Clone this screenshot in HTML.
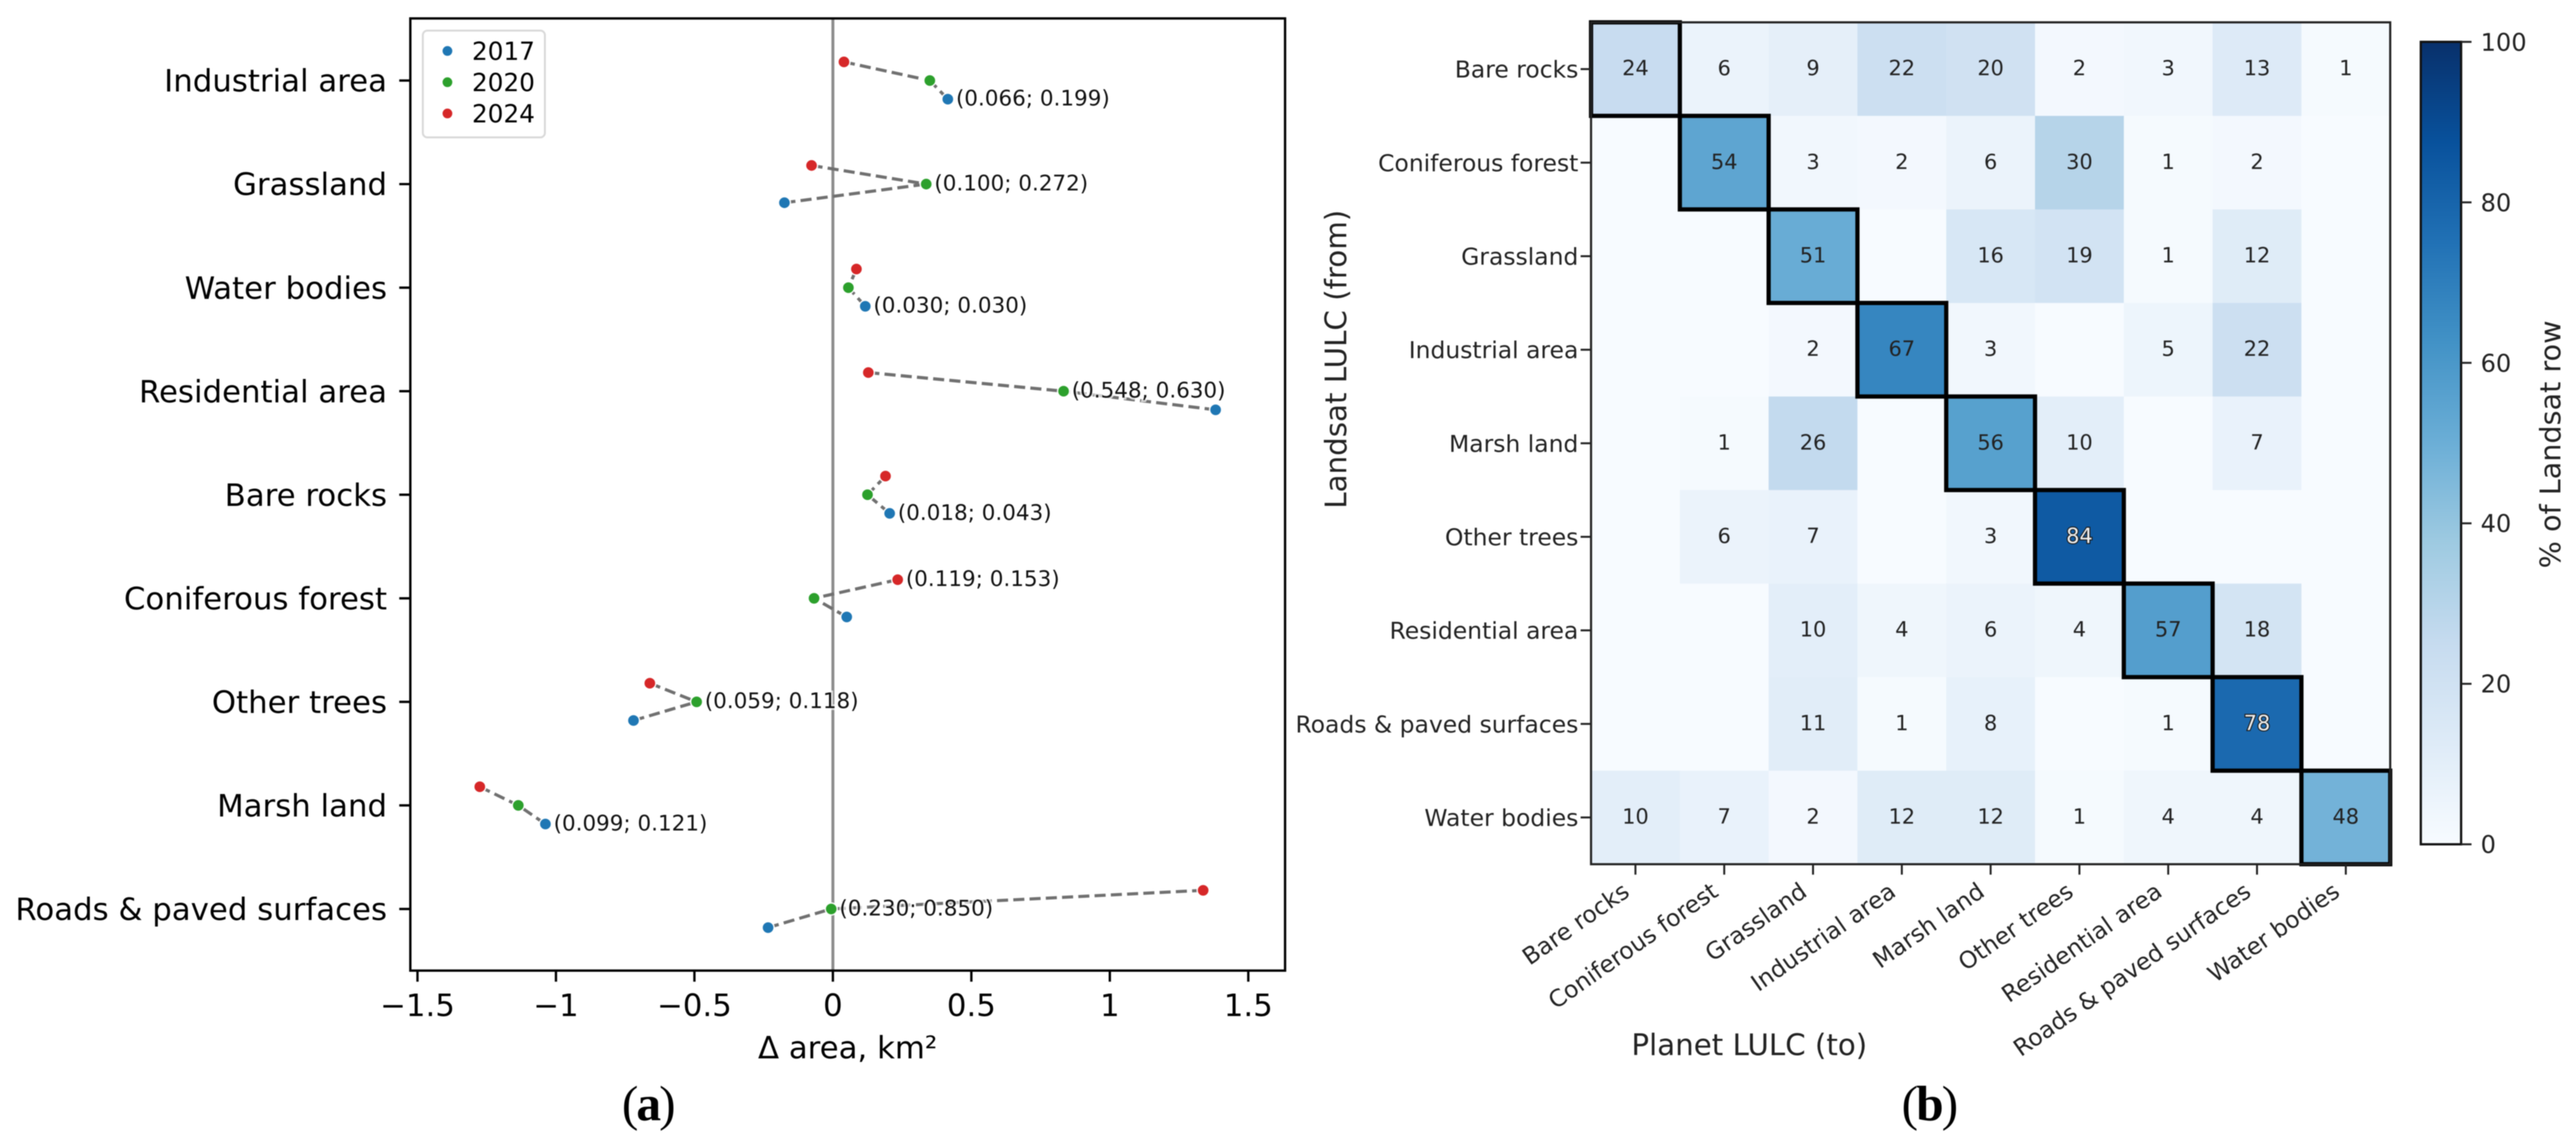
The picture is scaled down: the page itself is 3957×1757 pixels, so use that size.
<!DOCTYPE html>
<html lang="en">
<head>
<meta charset="utf-8">
<title>Land cover change and transition matrix</title>
<style>
html,body{margin:0;padding:0;background:#fff;}
svg{display:block;filter:blur(0.8px);}
text{font-family:"DejaVu Sans","Liberation Sans",sans-serif;}
</style>
</head>
<body>
<svg id="figure" xmlns="http://www.w3.org/2000/svg" width="3957" height="1757" viewBox="0 0 3957 1757">
<rect x="0" y="0" width="3957" height="1757" fill="#ffffff"/>
<defs>
<linearGradient id="cbar-gradient" x1="0" y1="1" x2="0" y2="0"></linearGradient>
</defs>
<g id="panel-a"></g>
<g id="panel-b"></g>
<text x="995" y="1720.5" text-anchor="middle" font-size="76" letter-spacing="-3" style="font-family:'Liberation Serif',serif">(<tspan font-weight="bold">a</tspan>)</text>
<text x="2963" y="1720.5" text-anchor="middle" font-size="76" letter-spacing="-3" style="font-family:'Liberation Serif',serif">(<tspan font-weight="bold">b</tspan>)</text>
</svg>
<script>
// ---------- Panel (a) data ----------
const categories = ["Industrial area","Grassland","Water bodies","Residential area","Bare rocks","Coniferous forest","Other trees","Marsh land","Roads & paved surfaces"];
const years = ["2017","2020","2024"];
const yearColors = ["#1f77b4","#2ca02c","#d62728"];
const values2017 = [0.415,-0.175,0.117,1.382,0.205,0.050,-0.720,-1.038,-0.234];
const values2020 = [0.350,0.337,0.056,0.833,0.125,-0.068,-0.492,-1.136,-0.006];
const values2024 = [0.040,-0.077,0.085,0.128,0.190,0.234,-0.661,-1.275,1.337];
const pairLabels = ["(0.066; 0.199)","(0.100; 0.272)","(0.030; 0.030)","(0.548; 0.630)","(0.018; 0.043)","(0.119; 0.153)","(0.059; 0.118)","(0.099; 0.121)","(0.230; 0.850)"];
const pairLabelYearIndex = [0,1,0,1,0,2,1,0,1];
const xTickValues = [-1.5,-1,-0.5,0,0.5,1,1.5];
const xTickLabels = ["\u22121.5","\u22121","\u22120.5","0","0.5","1","1.5"];

// ---------- Panel (b) data ----------
const lulcClasses = ["Bare rocks","Coniferous forest","Grassland","Industrial area","Marsh land","Other trees","Residential area","Roads & paved surfaces","Water bodies"];
const rowBareRocks = [24,6,9,22,20,2,3,13,1];
const rowConiferous = [null,54,3,2,6,30,1,2,null];
const rowGrassland = [null,null,51,null,16,19,1,12,null];
const rowIndustrial = [null,null,2,67,3,null,5,22,null];
const rowMarsh = [null,1,26,null,56,10,null,7,null];
const rowOtherTrees = [null,6,7,null,3,84,null,null,null];
const rowResidential = [null,null,10,4,6,4,57,18,null];
const rowRoads = [null,null,11,1,8,null,1,78,null];
const rowWater = [10,7,2,12,12,1,4,4,48];
const colorbarTicks = [0,20,40,60,80,100];
const blues = ["#f7fbff","#deebf7","#c6dbef","#9ecae1","#6baed6","#4292c6","#2171b5","#08519c","#08306b"];

const SVGNS = "http://www.w3.org/2000/svg";
function make(parent, tag, attrs, txt){
  const el = document.createElementNS(SVGNS, tag);
  for (const k in attrs) el.setAttribute(k, attrs[k]);
  if (txt !== undefined) el.textContent = txt;
  parent.appendChild(el);
  return el;
}
function hexToRgb(h){return [parseInt(h.slice(1,3),16),parseInt(h.slice(3,5),16),parseInt(h.slice(5,7),16)];}
function bluesColor(v){
  const t = Math.max(0,Math.min(1,(v||0)/100))*(blues.length-1);
  const i = Math.min(blues.length-2,Math.floor(t));
  const f = t-i, a = hexToRgb(blues[i]), b = hexToRgb(blues[i+1]);
  return "rgb("+a.map((c,k)=>Math.round(c+(b[k]-c)*f)).join(",")+")";
}

// ---------- Panel (a) drawing ----------
const pa = document.getElementById("panel-a");
const A = {left:630.3,right:1974,top:28.3,bottom:1490.7};
const xA = v => 1279.4 + 425.4*v;
const yA = (row,off) => 123.7 + 159.04*(row+off);
const seriesA = [values2017,values2020,values2024];
const yearOffsets = [0.18,0,-0.18];
let el;

el = make(pa,"line",{x1:xA(0),x2:xA(0),y1:A.top,y2:A.bottom,stroke:"#8c8c8c","stroke-width":4.5});



categories.forEach((c,i)=>{
  const outer = [[0,1],[2,1]];
  outer.forEach(pair=>{
    const l = make(pa,"line",{x1:xA(seriesA[pair[0]][i]),y1:yA(i,yearOffsets[pair[0]]),x2:xA(seriesA[pair[1]][i]),y2:yA(i,yearOffsets[pair[1]]),stroke:"#707070","stroke-width":4.8,"stroke-dasharray":"17 8"});
    
    
  });
});
categories.forEach((c,i)=>{
  seriesA.forEach((s,k)=>{
    const m = make(pa,"circle",{cx:xA(s[i]),cy:yA(i,yearOffsets[k]),r:9.2,fill:yearColors[k],stroke:"#ffffff","stroke-width":2});
    
    
  });
  const k = pairLabelYearIndex[i];
  const t = make(pa,"text",{x:xA(seriesA[k][i])+12.5,y:yA(i,yearOffsets[k])+9.8,"font-size":33,fill:"#111",stroke:"#fff","stroke-opacity":0.7,"stroke-width":6,"paint-order":"stroke"},pairLabels[i]);
  
  
  const tk = make(pa,"line",{x1:A.left-17,x2:A.left,y1:yA(i,0),y2:yA(i,0),stroke:"#000","stroke-width":3.6});
  
  
  const lb = make(pa,"text",{x:594.5,y:yA(i,0)+17,"text-anchor":"end","font-size":47.3,fill:"#000"},c);
  
  
});
xTickValues.forEach((v,i)=>{
  const tk = make(pa,"line",{x1:xA(v),x2:xA(v),y1:A.bottom,y2:A.bottom+17,stroke:"#000","stroke-width":3.6});
  
  
  const lb = make(pa,"text",{x:xA(v),y:1560.7,"text-anchor":"middle","font-size":47.3,fill:"#000"},xTickLabels[i]);
  
  
});
el = make(pa,"rect",{x:A.left,y:A.top,width:A.right-A.left,height:A.bottom-A.top,fill:"none",stroke:"#000","stroke-width":3.6});


el = make(pa,"text",{x:1302,y:1625.7,"text-anchor":"middle","font-size":47.3,fill:"#000"},"\u0394 area, km\u00b2");



// legend
const lg = make(pa,"g",{});


el = make(lg,"rect",{x:649.5,y:47,width:187.5,height:164,rx:7,ry:7,fill:"#fff",stroke:"#d9d9d9","stroke-width":3});


years.forEach((y,k)=>{
  const cy = 78.3 + 48*k;
  const d = make(lg,"circle",{cx:687.3,cy:cy,r:7.5,fill:yearColors[k]});
  
  
  const t = make(lg,"text",{x:725,y:cy+13.7,"font-size":38,fill:"#000"},y);
  
  
});

// ---------- Panel (b) drawing ----------
const pb = document.getElementById("panel-b");
const matrix = [rowBareRocks,rowConiferous,rowGrassland,rowIndustrial,rowMarsh,rowOtherTrees,rowResidential,rowRoads,rowWater];
const B = {left:2444,right:3671.6,top:34.3,bottom:1327.3};
const cw = (B.right-B.left)/lulcClasses.length, ch = (B.bottom-B.top)/lulcClasses.length;
const colX = j => B.left + cw*j;
const rowY = i => B.top + ch*i;

matrix.forEach((row,i)=>{
  row.forEach((v,j)=>{
    const c = make(pb,"rect",{x:colX(j),y:rowY(i),width:cw+0.6,height:ch+0.6,fill:bluesColor(v)});
    
    
  });
});
lulcClasses.forEach((c,i)=>{
  const r = make(pb,"rect",{x:colX(i),y:rowY(i),width:cw,height:ch,fill:"none",stroke:"#000","stroke-width":6.5});
  
  
});
matrix.forEach((row,i)=>{
  row.forEach((v,j)=>{
    if (v===null) return;
    const light = v>=75;
    const attrs = {x:colX(j)+cw/2,y:rowY(i)+ch/2+9.5,"text-anchor":"middle","font-size":32,fill:light?"#eeeeee":"#222"};
    if (light){attrs.stroke="#1a1a1a";attrs["stroke-width"]=3;attrs["paint-order"]="stroke";}
    const t = make(pb,"text",attrs,String(v));
    
    
  });
});
el = make(pb,"rect",{x:B.left,y:B.top,width:B.right-B.left,height:B.bottom-B.top,fill:"none",stroke:"#222","stroke-width":3.3});


lulcClasses.forEach((c,i)=>{
  const ty = rowY(i)+ch/2;
  const tk = make(pb,"line",{x1:B.left-16,x2:B.left,y1:ty,y2:ty,stroke:"#222","stroke-width":3});
  
  
  const lb = make(pb,"text",{x:2424.5,y:ty+13,"text-anchor":"end","font-size":36,fill:"#222"},c);
  
  
  const tx = colX(i)+cw/2;
  const tk2 = make(pb,"line",{x1:tx,x2:tx,y1:B.bottom,y2:B.bottom+16,stroke:"#222","stroke-width":3});
  
  
  const lb2 = make(pb,"text",{x:tx-7,y:1374.5,"text-anchor":"end","font-size":36,fill:"#222",transform:"rotate(-35 "+(tx-7)+" 1374.5)"},c);
  
  
});
el = make(pb,"text",{x:2506,y:1620.7,"font-size":45,fill:"#222"},"Planet LULC (to)");


el = make(pb,"text",{x:2068,y:551.7,"text-anchor":"middle","font-size":45,fill:"#222",transform:"rotate(-90 2068 551.7)"},"Landsat LULC (from)");



// colorbar
const grad = document.getElementById("cbar-gradient");
blues.forEach((c,i)=>{
  const s = make(grad,"stop",{offset:(i/(blues.length-1)*100)+"%","stop-color":c});
});
const C = {left:3718.6,right:3780.5,top:64.3,bottom:1296.7};
const yC = v => C.bottom - (C.bottom-C.top)*v/100;
el = make(pb,"rect",{x:C.left,y:C.top,width:C.right-C.left,height:C.bottom-C.top,fill:"url(#cbar-gradient)",stroke:"#111","stroke-width":3.5});


colorbarTicks.forEach(v=>{
  const tk = make(pb,"line",{x1:C.right,x2:C.right+16,y1:yC(v),y2:yC(v),stroke:"#222","stroke-width":3});
  
  
  const t = make(pb,"text",{x:3810.5,y:yC(v)+13.5,"font-size":37,fill:"#222"},String(v));
  
  
});
el = make(pb,"text",{x:3933,y:682.5,"text-anchor":"middle","font-size":44,fill:"#222",transform:"rotate(-90 3933 682.5)"},"% of Landsat row");


</script>
</body>
</html>
